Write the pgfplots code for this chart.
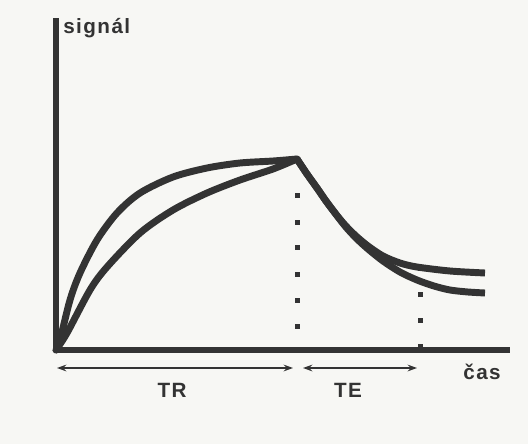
\documentclass[border=0pt]{standalone}
\usepackage{pgfplots}
\pgfplotsset{compat=1.18}
\usepackage{fontspec}
\setmainfont{Liberation Sans}
\newfontfamily\lab[LetterSpace=7]{Liberation Sans}
\usetikzlibrary{arrows.meta}
\definecolor{ink}{HTML}{333333}
\definecolor{paper}{HTML}{F7F7F4}
\begin{document}
\begin{tikzpicture}
\path[use as bounding box, fill=paper] (-42pt,-70.5pt) rectangle (354pt,262.5pt);
\begin{axis}[
  x=0.75pt, y=0.75pt, anchor=origin,
  xmin=0, xmax=454, ymin=0, ymax=332,
  axis lines=left,
  axis line style={-, line width=4.2pt, ink},
  ticks=none,
  clip=false,
]
% rising curves (TR)
\addplot[ink, line width=5.2pt, smooth, tension=0.5, line cap=round] coordinates {
  (0,0) (4,10) (14,50) (24,77) (41,110) (61,137) (84,157) (117,173) (151,182) (184,187) (217,189) (241,191)};
\addplot[ink, line width=5.2pt, smooth, tension=0.5, line cap=round] coordinates {
  (0,0) (11,17) (34,60) (51,83) (84,117) (117,140) (151,157) (184,170) (217,181) (241,191)};
% decay curves
\addplot[ink, line width=5.2pt, smooth, tension=0.5, line cap=butt] coordinates {
  (241,191) (251,176) (261,162) (270,149) (279,137) (289,125) (300,114) (312,104) (327,94) (344,87) (361,83) (394,79) (429,77)};
\addplot[ink, line width=5.2pt, smooth, tension=0.5, line cap=butt] coordinates {
  (241,191) (251,176) (261,162) (270,149) (279,137) (289,124) (300,112) (312,101) (327,89) (344,78) (361,70) (378,64) (394,60) (412,58) (429,57)};
% dotted markers
\addplot[only marks, mark=square*, mark size=1.6pt, ink] coordinates {
  (241,155) (241,128) (241,103) (241,76) (241,50) (241,24)};
\addplot[only marks, mark=square*, mark size=1.6pt, ink] coordinates {
  (364,82) (364,56) (364,30) (364,4)};
% annotations
\draw[ink, line width=1.4pt, {Stealth[length=7pt,width=5pt]}-{Stealth[length=7pt,width=5pt]}] (axis cs:1,-18) -- (axis cs:237,-18);
\draw[ink, line width=1.4pt, {Stealth[length=7pt,width=5pt]}-{Stealth[length=7pt,width=5pt]}] (axis cs:247,-18) -- (axis cs:361,-18);
\node[anchor=west, text=ink, font=\lab\fontsize{15.5}{18}\selectfont\bfseries, inner sep=0pt] at (axis cs:7,322) {signál};
\node[text=ink, font=\lab\fontsize{15.5}{18}\selectfont\bfseries, inner sep=0pt] at (axis cs:426,-22) {čas};
\node[text=ink, font=\lab\fontsize{15.5}{18}\selectfont\bfseries, inner sep=0pt] at (axis cs:116,-40) {TR};
\node[text=ink, font=\lab\fontsize{15.5}{18}\selectfont\bfseries, inner sep=0pt] at (axis cs:292,-40) {TE};
\end{axis}
\end{tikzpicture}
\end{document}
